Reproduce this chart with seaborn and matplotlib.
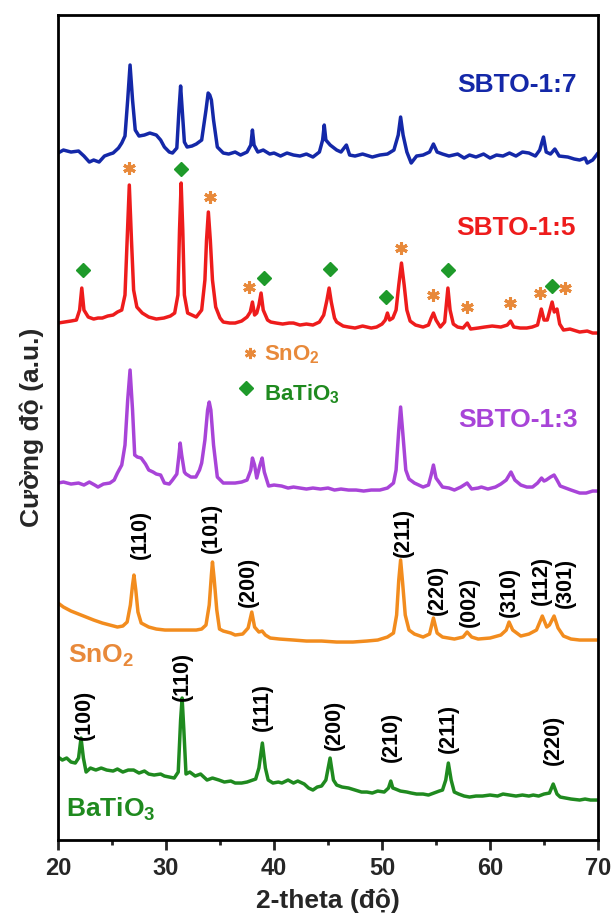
import matplotlib
matplotlib.use("Agg")
import matplotlib.pyplot as plt
import pandas as pd
import seaborn as sns

# XRD patterns (2-theta in degrees, intensity in arbitrary units, already stacked)
tt_17 = [20.0, 20.5, 21.2, 21.9, 22.4, 22.9, 23.3, 23.8, 24.3, 24.8, 25.1, 25.6, 25.9, 26.2, 26.45, 26.67, 26.9, 27.15,
         27.5, 28.0, 28.5, 29.1, 29.5, 29.85, 30.3, 30.6, 31.0, 31.2, 31.35, 31.5, 31.7, 31.95, 32.4, 32.8, 33.3, 33.7,
         33.9, 34.05, 34.2, 34.4, 34.75, 35.3, 35.8, 36.4, 36.9, 37.5, 37.85, 38.0, 38.15, 38.5, 39.0, 39.6, 40.0,
         40.6, 41.2, 41.8, 42.4, 43.0, 43.6, 44.2, 44.5, 44.65, 44.8, 45.2, 45.8, 46.2, 46.7, 47.0, 47.5, 48.2, 49.1,
         49.8, 50.5, 51.1, 51.5, 51.72, 51.95, 52.3, 52.7, 53.2, 53.8, 54.4, 54.76, 55.1, 55.6, 56.2, 57.0, 57.6, 58.1,
         58.7, 59.4, 60.0, 60.6, 61.2, 61.8, 62.4, 63.0, 63.6, 64.2, 64.6, 64.95, 65.2, 65.6, 66.0, 66.4, 67.2, 67.8,
         68.3, 68.8, 69.0, 69.5, 70.0]
int_17 = [687, 690, 688, 689, 684, 678, 680, 678, 684, 686, 687, 692, 697, 704, 740, 775, 740, 710,
          704, 705, 707, 705, 700, 693, 688, 687, 692, 730, 754, 730, 698, 693, 694, 696, 700, 730,
          747, 745, 740, 720, 693, 687, 686, 688, 685, 688, 695, 710, 695, 688, 690, 686, 687,
          684, 687, 685, 684, 686, 683, 688, 700, 715, 700, 695, 690, 688, 695, 685, 684, 686, 683,
          685, 686, 690, 705, 723, 705, 688, 677, 684, 685, 688, 696, 688, 686, 684, 686, 682, 685,
          683, 686, 682, 685, 684, 687, 684, 688, 687, 684, 690, 703, 688, 686, 691, 684, 683, 681,
          680, 682, 677, 680, 687]

tt_15 = [20.0, 20.6, 21.2, 21.7, 22.0, 22.2, 22.4, 22.8, 23.3, 23.7, 24.1, 24.6, 25.1, 25.5, 25.9, 26.2, 26.4, 26.6,
         26.8, 27.0, 27.3, 27.8, 28.4, 29.1, 29.8, 30.4, 30.8, 31.1, 31.25, 31.4, 31.55, 31.7, 32.0, 32.8, 33.3, 33.6,
         33.75, 33.92, 34.1, 34.3, 34.6, 35.0, 35.3, 35.9, 36.4, 37.0, 37.5, 37.8, 38.0, 38.2, 38.4, 38.6, 38.8, 39.0,
         39.4, 39.7, 40.2, 40.8, 41.4, 41.8, 42.4, 43.0, 43.6, 44.2, 44.6, 44.9, 45.1, 45.3, 45.6, 45.8, 46.4, 46.9,
         47.5, 48.2, 49.0, 49.5, 50.0, 50.3, 50.5, 50.7, 51.0, 51.3, 51.55, 51.8, 52.05, 52.3, 52.6, 53.1, 53.8, 54.3,
         54.55, 54.76, 55.0, 55.4, 55.8, 55.95, 56.1, 56.3, 56.6, 57.0, 57.5, 57.9, 58.2, 58.9, 59.5, 60.2, 61.0, 61.6,
         61.9, 62.2, 62.8, 63.4, 63.9, 64.4, 64.75, 65.0, 65.3, 65.55, 65.75, 65.95, 66.2, 66.45, 66.8, 67.4, 68.3,
         69.0, 69.5, 70.0]
int_15 = [517, 518, 519, 520, 530, 552, 530, 523, 521, 522, 522, 524, 525, 528, 530, 545, 600, 655,
          600, 550, 533, 527, 523, 521, 522, 524, 527, 545, 610, 657, 610, 545, 527, 523, 530, 560,
          600, 628, 600, 560, 533, 522, 518, 517, 517, 519, 523, 528, 538, 525, 527, 535, 547, 530,
          520, 518, 517, 516, 517, 517, 515, 516, 515, 518, 525, 540, 552, 538, 522, 518, 514, 513,
          512, 514, 512, 513, 516, 520, 527, 520, 522, 530, 555, 577, 555, 530, 519, 515, 513, 515,
          522, 527, 520, 513, 518, 535, 552, 530, 516, 513, 512, 517, 511, 512, 513, 514, 513, 515,
          519, 513, 512, 512, 513, 515, 531, 520, 520, 530, 538, 528, 531, 516, 510, 511, 508,
          509, 507, 507]

tt_13 = [20.0, 20.5, 21.2, 21.9, 22.4, 22.9, 23.4, 23.7, 24.2, 24.8, 25.2, 25.5, 25.9, 26.2, 26.45, 26.67, 26.9, 27.1,
         27.35, 27.7, 28.1, 28.4, 28.8, 29.1, 29.5, 29.85, 30.3, 30.6, 31.0, 31.2, 31.31, 31.45, 31.7, 31.85, 32.3,
         32.76, 33.1, 33.3, 33.6, 33.85, 34.0, 34.15, 34.4, 34.75, 35.3, 35.8, 36.4, 37.0, 37.5, 37.85, 38.0, 38.2,
         38.4, 38.7, 38.9, 39.1, 39.5, 40.0, 40.7, 41.3, 41.8, 42.4, 43.0, 43.6, 44.3, 45.0, 45.6, 46.2, 46.9, 47.6,
         48.3, 49.0, 49.8, 50.5, 51.06, 51.3, 51.55, 51.72, 51.9, 52.2, 52.5, 53.0, 53.8, 54.3, 54.55, 54.76, 55.0,
         55.6, 56.2, 56.7, 57.3, 57.88, 58.3, 58.9, 59.2, 59.8, 60.5, 61.0, 61.5, 61.94, 62.3, 62.85, 63.4, 63.94,
         64.4, 64.77, 65.0, 65.2, 65.6, 65.93, 66.2, 66.5, 67.0, 67.5, 68.3, 68.9, 69.5, 70.0]
int_13 = [357, 358, 356, 357, 355, 358, 355, 353, 356, 357, 360, 367, 375, 395, 440, 470, 430, 385,
          383, 382, 376, 370, 368, 366, 365, 357, 356, 360, 366, 385, 397, 385, 368, 366, 363,
          363, 370, 377, 400, 430, 438, 430, 395, 363, 357, 357, 357, 358, 360, 370, 382, 375,
          362, 375, 382, 368, 354, 355, 354, 352, 353, 352, 351, 352, 351, 352, 350, 351, 350, 350,
          349, 350, 350, 352, 357, 370, 410, 433, 410, 370, 361, 357, 353, 355, 365, 375, 362,
          353, 352, 350, 353, 357, 351, 352, 353, 351, 353, 356, 360, 368, 360, 355, 353, 353,
          357, 362, 359, 360, 363, 365, 360, 354, 352, 350, 347, 347, 349, 349]

tt_sno2 = [20.0, 20.5, 21.2, 21.9, 22.6, 23.3, 24.1, 24.8, 25.5, 26.0, 26.4, 26.7, 26.9, 27.03, 27.2, 27.4, 27.7, 28.4,
           29.1, 29.9, 30.6, 31.3, 32.0, 32.8, 33.3, 33.7, 34.0, 34.2, 34.3, 34.45, 34.7, 34.95, 35.3, 36.0, 36.4,
           37.1, 37.6, 37.94, 38.2, 38.6, 38.9, 39.2, 39.65, 40.5, 41.8, 43.0, 44.4, 45.8, 47.3, 48.6, 49.6, 50.5,
           51.06, 51.35, 51.55, 51.72, 51.9, 52.15, 52.5, 53.0, 53.8, 54.4, 54.76, 55.1, 55.6, 56.7, 57.5, 57.88,
           58.3, 58.9, 60.0, 61.0, 61.5, 61.76, 62.1, 62.85, 63.6, 64.3, 64.84, 65.25, 65.5, 65.93, 66.3, 66.8,
           67.5, 68.3, 69.2, 70.0]
int_sno2 = [237, 233, 229, 226, 223, 220, 217, 215, 213, 214, 218, 235, 255, 265, 250, 228, 217, 213,
            211, 210, 210, 210, 210, 210, 211, 215, 235, 265, 278, 262, 230, 211, 209, 207, 205,
            206, 212, 228, 213, 208, 209, 205, 202, 201, 200, 199, 199, 198, 198, 199, 200, 203,
            207, 225, 260, 280, 258, 225, 210, 206, 203, 206, 222, 207, 203, 201, 203, 208,
            203, 201, 202, 205, 210, 218, 210, 204, 206, 210, 224, 213, 215, 224, 212, 204,
            201, 200, 200, 200]

tt_bto = [20.0, 20.4, 20.8, 21.2, 21.6, 21.9, 22.13, 22.35, 22.6, 23.0, 23.5, 24.0, 24.5, 25.1, 25.5, 26.0, 26.5, 27.0,
          27.5, 28.0, 28.4, 28.9, 29.5, 29.85, 30.3, 30.76, 31.13, 31.35, 31.49, 31.65, 31.85, 32.2, 32.7, 33.2, 33.8,
          34.3, 34.9, 35.4, 36.0, 36.4, 37.0, 37.5, 38.3, 38.6, 38.92, 39.2, 39.46, 39.9, 40.4, 40.73, 41.3, 41.8,
          42.2, 42.8, 43.2, 43.6, 44.0, 44.4, 44.8, 45.19, 45.5, 45.8, 46.3, 46.9, 47.5, 48.1, 48.6, 49.1, 49.6, 50.2,
          50.6, 50.81, 51.0, 51.25, 51.7, 52.3, 52.7, 53.2, 53.8, 54.3, 54.8, 55.3, 55.6, 55.9, 56.14, 56.4, 56.69,
          57.1, 57.6, 58.1, 58.7, 59.3, 60.0, 60.7, 61.2, 61.8, 62.4, 63.0, 63.6, 64.0, 64.5, 65.0, 65.5, 65.85, 66.2,
          66.5, 67.0, 67.5, 68.3, 68.8, 69.3, 70.0]
int_bto = [83, 80, 82, 78, 77, 82, 102, 82, 68, 72, 70, 72, 70, 69, 71, 68, 70, 70,
           67, 69, 66, 65, 66, 64, 63, 62, 68, 120, 142, 110, 66, 68, 64, 66, 60,
           62, 60, 58, 59, 57, 57, 58, 61, 72, 97, 72, 60, 57, 58, 57, 60, 57,
           59, 56, 52, 50, 53, 54, 60, 82, 60, 55, 53, 52, 50, 48, 48, 47, 49, 48,
           52, 59, 52, 51, 49, 48, 47, 46, 46, 45, 47, 49, 50, 60, 77, 60, 48,
           46, 44, 43, 44, 44, 45, 44, 46, 45, 44, 45, 44, 45, 44, 46, 47, 56, 46,
           43, 42, 41, 40, 41, 40, 40]

# phase markers above the SBTO-1:5 pattern
sno2_mark_tt = [26.59, 34.03, 37.72, 51.79, 54.76, 57.84, 61.87, 64.66, 66.94]
sno2_mark_y = [672, 643, 553, 592, 545, 533, 537, 547, 552]
bto_mark_tt = [22.31, 31.42, 39.1, 45.16, 50.41, 56.14, 65.74]
bto_mark_y = [570, 671, 562, 571, 543, 570, 554]

# Miller indices
sno2_hkl = ["(110)", "(101)", "(200)", "(211)", "(220)", "(002)", "(310)", "(112)", "(301)"]
sno2_hkl_tt = [27.6, 34.2, 37.6, 52.0, 55.1, 58.1, 61.8, 64.8, 67.0]
sno2_hkl_y = [306, 312, 258, 308, 250, 238, 248, 260, 257]
bto_hkl = ["(100)", "(110)", "(111)", "(200)", "(210)", "(211)", "(220)"]
bto_hkl_tt = [22.4, 31.5, 38.9, 45.6, 50.9, 56.1, 65.9]
bto_hkl_y = [125, 164, 133, 115, 103, 112, 100]

blue, red, purple = "#1428a8", "#ee1c1c", "#a844d8"
orange, green = "#f28c1e", "#1f8a1f"
orange_txt = "#e8893a"

sns.set_style("ticks")
plt.rcParams["font.family"] = ["Liberation Sans", "DejaVu Sans"]
plt.rcParams["mathtext.fontset"] = "custom"
plt.rcParams["mathtext.rm"] = "Liberation Sans:bold"
plt.rcParams["mathtext.default"] = "rm"

fig = plt.figure(figsize=(6.14, 9.22), dpi=100)
ax = fig.add_axes([0.0945, 0.0889, 0.8795, 0.8948])

patterns = [(tt_17, int_17, blue), (tt_15, int_15, red), (tt_13, int_13, purple),
            (tt_sno2, int_sno2, orange), (tt_bto, int_bto, green)]
for tt, inten, col in patterns:
    df = pd.DataFrame({"tt": tt, "I": inten})
    sns.lineplot(data=df, x="tt", y="I", color=col, lw=2.5, sort=False, estimator=None, ax=ax)

ax.plot(sno2_mark_tt, sno2_mark_y, ls="none", marker=(6, 2, 0), ms=9, mew=2.2, color=orange_txt)
ax.plot(bto_mark_tt, bto_mark_y, ls="none", marker="D", ms=7.5, color="#1e9a2a")

for lab, x, y in zip(sno2_hkl, sno2_hkl_tt, sno2_hkl_y):
    ax.text(x, y, lab, rotation=90, ha="center", va="center", fontsize=15.5, fontweight="bold", color="black")
for lab, x, y in zip(bto_hkl, bto_hkl_tt, bto_hkl_y):
    ax.text(x, y, lab, rotation=90, ha="center", va="center", fontsize=15.5, fontweight="bold", color="black")

# sample labels
ax.text(62.5, 755, "SBTO-1:7", color=blue, fontsize=19, fontweight="bold", ha="center", va="center")
ax.text(62.4, 612, "SBTO-1:5", color=red, fontsize=19, fontweight="bold", ha="center", va="center")
ax.text(62.6, 420, "SBTO-1:3", color=purple, fontsize=19, fontweight="bold", ha="center", va="center")
ax.text(20.9, 177, "SnO$_2$", color=orange_txt, fontsize=19, fontweight="bold", ha="left", va="baseline")
ax.text(20.75, 23, "BaTiO$_3$", color=green, fontsize=19, fontweight="bold", ha="left", va="baseline")

# legend for the phase markers
ax.plot([37.8], [487], ls="none", marker=(6, 2, 0), ms=8, mew=2, color=orange_txt)
ax.text(39.1, 480, "SnO$_2$", color=orange_txt, fontsize=16, fontweight="bold", ha="left", va="baseline")
ax.plot([37.4], [452], ls="none", marker="D", ms=7, color="#1e9a2a")
ax.text(39.1, 440, "BaTiO$_3$", color=green, fontsize=16, fontweight="bold", ha="left", va="baseline")

ax.set_xlim(20, 70)
ax.set_ylim(0, 825)
ax.set_xticks([20, 30, 40, 50, 60, 70])
ax.set_xticks([25, 35, 45, 55, 65], minor=True)
ax.set_yticks([])
ax.tick_params(axis="x", which="major", length=7, width=2, labelsize=17, pad=5)
ax.tick_params(axis="x", which="minor", length=3.5, width=2)
for lbl in ax.get_xticklabels():
    lbl.set_fontweight("bold")
for sp in ax.spines.values():
    sp.set_visible(True)
    sp.set_linewidth(2)
    sp.set_color("black")

ax.set_xlabel("2-theta (độ)", fontsize=19, fontweight="bold", labelpad=6)
ax.set_ylabel("Cường độ (a.u.)", fontsize=19, fontweight="bold", labelpad=10)

fig.savefig("out.png", dpi=100)
